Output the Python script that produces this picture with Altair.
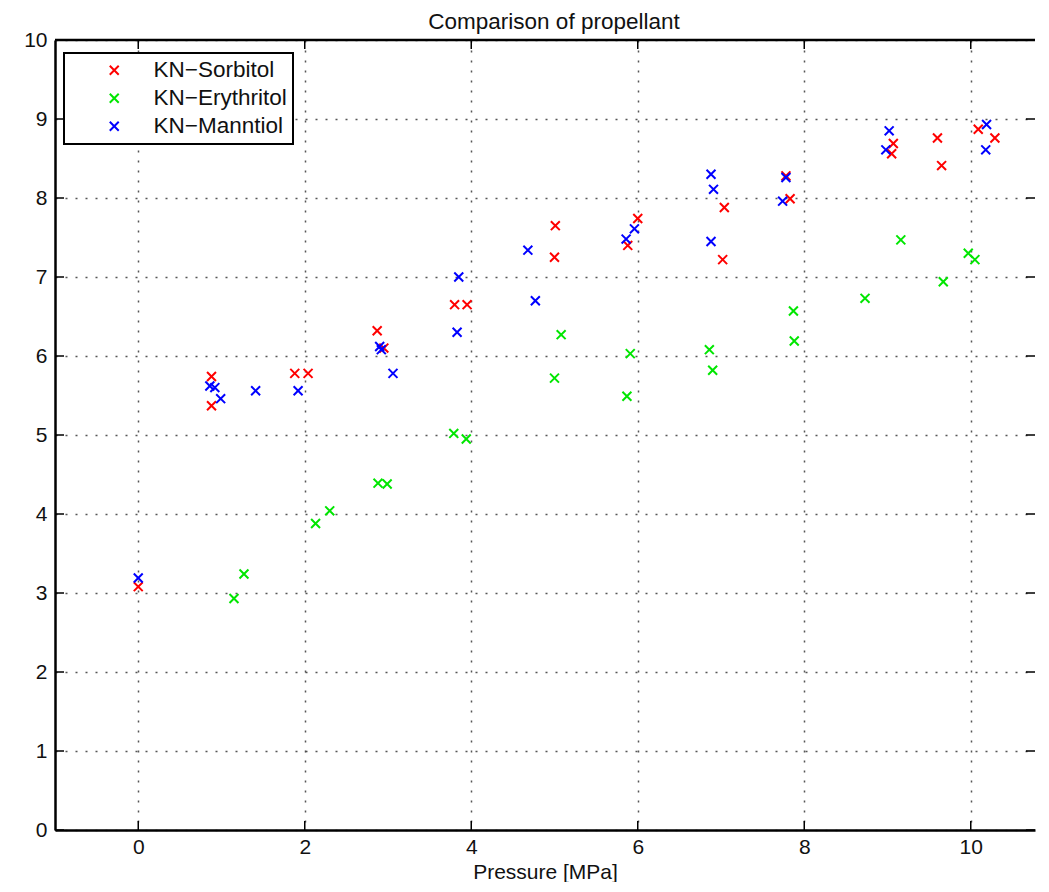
import altair as alt
import pandas as pd

TITLE = "Comparison of propellant"
X_LABEL = "Pressure [MPa]"
SERIES = ["KN−Sorbitol", "KN−Erythritol", "KN−Manntiol"]
COLORS = ["#ff0000", "#00e600", "#0000ff"]

sorb_x = [0.00, 0.88, 0.88, 1.88, 2.04, 2.87, 2.95, 3.80, 3.95, 5.01, 5.00, 5.88,
          6.00, 7.04, 7.02, 7.78, 7.83, 9.07, 9.05, 9.60, 9.65, 10.09, 10.29]
sorb_y = [3.08, 5.74, 5.37, 5.78, 5.78, 6.32, 6.10, 6.65, 6.65, 7.65, 7.25, 7.40,
          7.74, 7.88, 7.22, 8.28, 7.99, 8.69, 8.56, 8.76, 8.41, 8.87, 8.76]

eryth_x = [1.15, 1.27, 2.13, 2.30, 2.88, 2.99, 3.79, 3.94, 5.00, 5.08, 5.87, 5.91,
           6.86, 6.90, 7.87, 7.88, 8.73, 9.16, 9.67, 9.97, 10.05]
eryth_y = [2.93, 3.24, 3.88, 4.04, 4.39, 4.38, 5.02, 4.95, 5.72, 6.27, 5.49, 6.03,
           6.08, 5.82, 6.57, 6.19, 6.73, 7.47, 6.94, 7.30, 7.22]

mann_x = [0.00, 0.86, 0.92, 0.99, 1.41, 1.92, 2.90, 2.92, 3.06, 3.83, 3.85, 4.68,
          4.77, 5.86, 5.96, 6.88, 6.91, 6.88, 7.78, 7.74, 9.02, 8.98, 10.19, 10.18]
mann_y = [3.19, 5.62, 5.60, 5.46, 5.56, 5.56, 6.12, 6.08, 5.78, 6.30, 7.00, 7.34,
          6.70, 7.48, 7.61, 8.30, 8.11, 7.45, 8.26, 7.96, 8.85, 8.61, 8.93, 8.61]

x_ticks = [0, 2, 4, 6, 8, 10]
y_ticks = [0, 1, 2, 3, 4, 5, 6, 7, 8, 9, 10]

FONT = "Liberation Sans, Arial, Helvetica, sans-serif"
W, H = 980, 790
XDOM = [-1, -1 + W / 83.25]
YDOM = [0, 10]
TICK = 9
XSHAPE = "M-1,-1L1,1M1,-1L-1,1"

rows = []
for name, xs, ys in zip(SERIES, [sorb_x, eryth_x, mann_x], [sorb_y, eryth_y, mann_y]):
    for a, b in zip(xs, ys):
        rows.append({"x": a, "y": b, "series": name})
df = pd.DataFrame(rows)

xscale = alt.Scale(domain=XDOM, nice=False, zero=False)
yscale = alt.Scale(domain=YDOM, nice=False, zero=False)
x_axis = alt.Axis(values=x_ticks, grid=True, format="d", titlePadding=4, labelPadding=6)
y_axis = alt.Axis(values=y_ticks, grid=True, format="d")

points = alt.Chart(df).mark_point(
    shape=XSHAPE, filled=False, size=80, strokeWidth=2, opacity=1
).encode(
    x=alt.X("x:Q", scale=xscale, title=X_LABEL, axis=x_axis),
    y=alt.Y("y:Q", scale=yscale, title=None, axis=y_axis),
    color=alt.Color("series:N", scale=alt.Scale(domain=SERIES, range=COLORS),
                    legend=alt.Legend(title=None, symbolType=XSHAPE)),
)

xt = pd.DataFrame({"x": x_ticks})
yt = pd.DataFrame({"y": y_ticks})
tick_style = dict(color="black", strokeWidth=1.5)

bottom_ticks = alt.Chart(xt).mark_rule(**tick_style).encode(
    x=alt.X("x:Q", scale=xscale, title=X_LABEL, axis=x_axis),
    y=alt.value(H - TICK), y2=alt.value(H))
top_ticks = alt.Chart(xt).mark_rule(**tick_style).encode(
    x=alt.X("x:Q", scale=xscale, title=X_LABEL, axis=x_axis),
    y=alt.value(0), y2=alt.value(TICK))
left_ticks = alt.Chart(yt).mark_rule(**tick_style).encode(
    y=alt.Y("y:Q", scale=yscale, title=None, axis=y_axis),
    x=alt.value(0), x2=alt.value(TICK))
right_ticks = alt.Chart(yt).mark_rule(**tick_style).encode(
    y=alt.Y("y:Q", scale=yscale, title=None, axis=y_axis),
    x=alt.value(W - TICK), x2=alt.value(W))
top_border = alt.Chart(pd.DataFrame({"k": [0]})).mark_rule(color="black", strokeWidth=2.5).encode(
    x=alt.value(0), x2=alt.value(W), y=alt.value(0))

chart = alt.layer(
    points, bottom_ticks, top_ticks, left_ticks, right_ticks, top_border
).properties(
    width=W, height=H,
    title=alt.TitleParams(TITLE, dx=9),
    padding={"left": 15, "top": 3, "right": 0, "bottom": 0},
).configure_view(
    stroke=None
).configure_axis(
    domainColor="black", domainWidth=2.5, ticks=False,
    labelFont=FONT, labelFontSize=21, labelColor="#111", labelPadding=8,
    titleFont=FONT, titleFontSize=21, titleColor="#111", titleFontWeight="normal",
    gridColor="#444", gridDash=[2, 8], gridWidth=1.5, gridOpacity=0.9,
).configure_title(
    font=FONT, fontSize=22.5, fontWeight="normal", anchor="middle", offset=-4.5, color="#111"
).configure_legend(
    orient="none", legendX=9, legendY=13,
    strokeColor="black", strokeWidth=2, fillColor="white", padding=6,
    labelFont=FONT, labelFontSize=22.5, labelColor="#111",
    symbolSize=80, symbolStrokeWidth=2, symbolOffset=33, labelOffset=28,
    rowPadding=5,
)

chart.save("out.html", embed_options={"renderer": "svg", "actions": False})
